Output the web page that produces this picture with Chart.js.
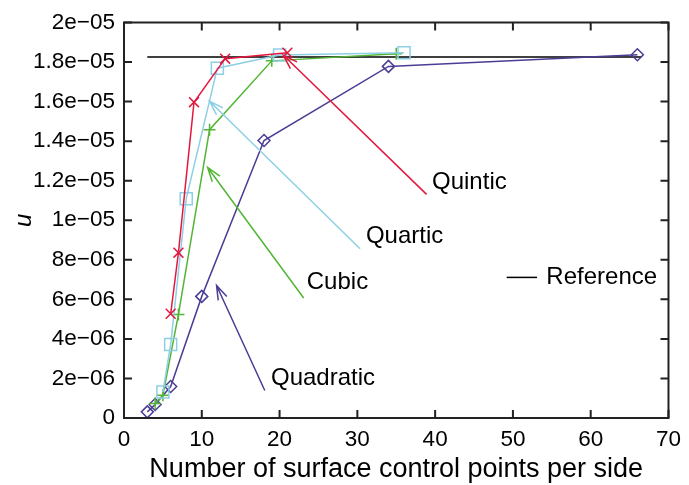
<!DOCTYPE html>
<html>
<head>
<meta charset="utf-8">
<script src="https://cdn.jsdelivr.net/npm/chart.js@4.4.1/dist/chart.umd.min.js"></script>
<style>
  html, body { margin: 0; padding: 0; background: #fff; }
  #wrap { width: 689px; height: 485px; }
</style>
</head>
<body>
<div id="wrap"><canvas id="chart"></canvas></div>
<script>
// values
const quadraticX = [3, 4, 6, 10, 18, 34, 66];
const quadraticU = [0.31e-6, 0.68e-6, 1.59e-6, 6.15e-6, 14.03e-6, 17.78e-6, 18.37e-6];
const cubicX = [4, 5, 7, 11, 19, 35];
const cubicU = [0.73e-6, 1.15e-6, 5.24e-6, 14.58e-6, 18.06e-6, 18.42e-6];
const quarticX = [5, 6, 8, 12, 20, 36];
const quarticU = [1.31e-6, 3.72e-6, 11.09e-6, 17.69e-6, 18.36e-6, 18.47e-6];
const quinticX = [6, 7, 9, 13, 21];
const quinticU = [5.27e-6, 8.36e-6, 15.97e-6, 18.17e-6, 18.47e-6];
const referenceX = [3, 66.5];
const referenceU = [18.26e-6, 18.26e-6];

const xTicks = [0, 10, 20, 30, 40, 50, 60, 70];
const yTicks = [0, 2e-6, 4e-6, 6e-6, 8e-6, 1e-5, 1.2e-5, 1.4e-5, 1.6e-5, 1.8e-5, 2e-5];

// curve labels with their arrows (label anchor, arrow tail, arrow tip)
const labelNames = ["Quintic", "Quartic", "Cubic", "Quadratic"];
const labelX = [39.6, 31.1, 23.5, 18.9];
const labelU = [11.94e-6, 9.2e-6, 6.87e-6, 1.99e-6];
const tailX = [38.9, 30.35, 23.1, 18.1];
const tailU = [11.31e-6, 8.56e-6, 6.07e-6, 1.39e-6];
const tipX = [20.5, 11.0, 10.75, 11.9];
const tipU = [18.34e-6, 16.02e-6, 12.67e-6, 6.7e-6];
const legendX = [49.2, 53.1, 54.3];
const legendU = 7.11e-6;

const colors = {
  quintic: "#e3173e",
  quartic: "#8dcfe4",
  cubic: "#52b534",
  quadratic: "#4b3d96",
};
const labelColors = [colors.quintic, colors.quartic, colors.cubic, colors.quadratic];
const FONT = "'Liberation Sans', Arial, Helvetica, sans-serif";

function pts(xs, ys) {
  return xs.map((x, i) => ({ x: x, y: ys[i] }));
}

function fmt(v) {
  if (v === 0) return "0";
  const parts = v.toExponential(1).split("e");
  const m = parseFloat(parts[0]);
  const e = parseInt(parts[1], 10);
  const es = String(Math.abs(e)).padStart(2, "0");
  return m + "e" + (e < 0 ? "\u2212" : "+") + es;
}

function series(label, xs, ys, color, style, radius) {
  return {
    label: label,
    data: pts(xs, ys),
    showLine: true,
    borderColor: color,
    backgroundColor: "rgba(0,0,0,0)",
    borderWidth: 1.5,
    pointStyle: style,
    pointRadius: radius,
    pointBorderWidth: 1.5,
    pointBorderColor: color,
    pointBackgroundColor: "rgba(0,0,0,0)",
    tension: 0,
  };
}

// frame, inward ticks, arrows and labels
const decorations = {
  id: "decorations",
  afterDatasetsDraw(chart) {
    const ctx = chart.ctx;
    const xs = chart.scales.x;
    const ys = chart.scales.y;
    const a = chart.chartArea;
    ctx.save();

    // arrows
    for (let i = 0; i < labelNames.length; i++) {
      const x0 = xs.getPixelForValue(tailX[i]);
      const y0 = ys.getPixelForValue(tailU[i]);
      const x1 = xs.getPixelForValue(tipX[i]);
      const y1 = ys.getPixelForValue(tipU[i]);
      const ang = Math.atan2(y0 - y1, x0 - x1);
      const len = 15, spread = 0.32;
      ctx.strokeStyle = labelColors[i];
      ctx.lineWidth = 1.5;
      ctx.beginPath();
      ctx.moveTo(x0, y0);
      ctx.lineTo(x1, y1);
      ctx.moveTo(x1 + len * Math.cos(ang - spread), y1 + len * Math.sin(ang - spread));
      ctx.lineTo(x1, y1);
      ctx.lineTo(x1 + len * Math.cos(ang + spread), y1 + len * Math.sin(ang + spread));
      ctx.stroke();

      ctx.fillStyle = "#000";
      ctx.font = "24px " + FONT;
      ctx.textAlign = "left";
      ctx.textBaseline = "middle";
      ctx.fillText(labelNames[i], xs.getPixelForValue(labelX[i]), ys.getPixelForValue(labelU[i]));
    }

    // reference key
    const ly = ys.getPixelForValue(legendU);
    ctx.strokeStyle = "#000";
    ctx.lineWidth = 1.5;
    ctx.beginPath();
    ctx.moveTo(xs.getPixelForValue(legendX[0]), ly);
    ctx.lineTo(xs.getPixelForValue(legendX[1]), ly);
    ctx.stroke();
    ctx.fillText("Reference", xs.getPixelForValue(legendX[2]), ly);

    // frame
    ctx.strokeStyle = "#222";
    ctx.lineWidth = 2;
    ctx.strokeRect(a.left, a.top, a.right - a.left, a.bottom - a.top);

    // inward ticks on all four sides
    const tl = 8;
    ctx.beginPath();
    xTicks.forEach((v) => {
      const px = xs.getPixelForValue(v);
      ctx.moveTo(px, a.bottom);
      ctx.lineTo(px, a.bottom - tl);
      ctx.moveTo(px, a.top);
      ctx.lineTo(px, a.top + tl);
    });
    yTicks.forEach((v) => {
      const py = ys.getPixelForValue(v);
      ctx.moveTo(a.left, py);
      ctx.lineTo(a.left + tl, py);
      ctx.moveTo(a.right, py);
      ctx.lineTo(a.right - tl, py);
    });
    ctx.stroke();
    ctx.restore();
  },
};

const ctx = document.getElementById("chart").getContext("2d");
new Chart(ctx, {
  type: "scatter",
  data: {
    datasets: [
      series("Quintic", quinticX, quinticU, colors.quintic, "crossRot", 7),
      series("Quartic", quarticX, quarticU, colors.quartic, "rect", 8.5),
      series("Cubic", cubicX, cubicU, colors.cubic, "cross", 6),
      series("Quadratic", quadraticX, quadraticU, colors.quadratic, "rectRot", 6),
      {
        label: "Reference",
        data: pts(referenceX, referenceU),
        showLine: true,
        borderColor: "#000",
        borderWidth: 1.5,
        pointRadius: 0,
      },
    ],
  },
  options: {
    responsive: true,
    maintainAspectRatio: false,
    animation: false,
    devicePixelRatio: 1,
    layout: { padding: { left: 0, right: 16, top: 16, bottom: 0 } },
    plugins: {
      legend: { display: false },
      tooltip: { enabled: false },
    },
    scales: {
      x: {
        type: "linear",
        min: 0,
        max: 70,
        afterBuildTicks: (s) => { s.ticks = xTicks.map((v) => ({ value: v })); },
        afterFit: (s) => { s.height = 67; },
        grid: { display: false, drawTicks: false },
        border: { display: false },
        ticks: { color: "#000", padding: 8, font: { family: FONT, size: 22.5 }, maxRotation: 0 },
        title: {
          display: true,
          text: "Number of surface control points per side",
          color: "#000",
          font: { family: FONT, size: 27 },
          padding: { top: 0, bottom: -1 },
        },
      },
      y: {
        type: "linear",
        min: 0,
        max: 2e-5,
        afterBuildTicks: (s) => { s.ticks = yTicks.map((v) => ({ value: v })); },
        afterFit: (s) => { s.width = 124; },
        grid: { display: false, drawTicks: false },
        border: { display: false },
        ticks: { color: "#000", padding: 9, font: { family: FONT, size: 22.5 }, callback: (v) => fmt(v) },
        title: {
          display: true,
          text: "u",
          color: "#000",
          font: { family: FONT, size: 24, style: "italic" },
          padding: { top: 10, bottom: 0 },
        },
      },
    },
  },
  plugins: [decorations],
});
</script>
</body>
</html>
